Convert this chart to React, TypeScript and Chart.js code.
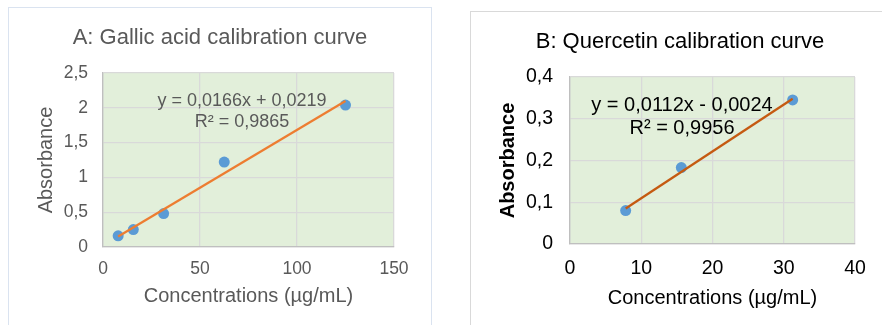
import React, { useEffect, useRef } from "react";
import { Chart, registerables } from "chart.js";

Chart.register(...registerables);

// ---- Data ----
const concA = [7.8125, 15.625, 31.25, 62.5, 125];
const absA = [0.16, 0.25, 0.48, 1.22, 2.04];
const trendAX = [7.8125, 125];
const trendAY = [0.152, 2.097];
const equationA = ["y = 0,0166x + 0,0219", "R² = 0,9865"];
const titleA = "A: Gallic acid calibration curve";

const concB = [7.8125, 15.625, 31.25];
const absB = [0.08, 0.183, 0.345];
const trendBX = [7.8125, 31.25];
const trendBY = [0.085, 0.348];
const equationB = ["y = 0,0112x - 0,0024", "R² = 0,9956"];
const titleB = "B: Quercetin calibration curve";

const xTitle = "Concentrations (µg/mL)";
const yTitle = "Absorbance";

const FONT = "'Liberation Sans', Arial, sans-serif";

type Spec = {
  xs: number[];
  ys: number[];
  tx: number[];
  ty: number[];
  eq: string[];
  title: string;
  xMax: number;
  xStep: number;
  yMax: number;
  yStep: number;
  textColor: string;
  trendColor: string;
  tickSize: number;
  eqSize: number;
  yTitleBold: boolean;
  pad: { left: number; top: number; right: number; bottom: number };
  yWidth: number;
  xHeight: number;
  yTickPad: number;
  xTickPad: number;
  titlePos: [number, number];
  eqPos: [number, number, number];
};

const fmt = (v: number) => {
  const r = Math.round(v * 10) / 10;
  return r === 0 ? "0" : String(r).replace(".", ",");
};

function ChartPanel({ spec }: { spec: Spec }) {
  const ref = useRef<HTMLCanvasElement | null>(null);
  useEffect(() => {
    if (!ref.current) return;
    const s = spec;
    const textPlugin = {
      id: "texts",
      beforeDraw(chart: any) {
        const { ctx, chartArea } = chart;
        ctx.save();
        ctx.fillStyle = "#e2efda";
        ctx.fillRect(chartArea.left, chartArea.top, chartArea.right - chartArea.left, chartArea.bottom - chartArea.top);
        ctx.restore();
      },
      afterDraw(chart: any) {
        const ctx = chart.ctx;
        ctx.save();
        ctx.fillStyle = s.textColor;
        ctx.textAlign = "center";
        ctx.textBaseline = "alphabetic";
        ctx.font = `22px ${FONT}`;
        ctx.fillText(s.title, s.titlePos[0], s.titlePos[1]);
        ctx.font = `${s.eqSize}px ${FONT}`;
        ctx.fillText(s.eq[0], s.eqPos[0], s.eqPos[1]);
        ctx.fillText(s.eq[1], s.eqPos[0], s.eqPos[2]);
        ctx.restore();
      },
    };
    const chart = new Chart(ref.current, {
      type: "scatter",
      data: {
        datasets: [
          {
            type: "line",
            data: s.tx.map((x, i) => ({ x, y: s.ty[i] })),
            borderColor: s.trendColor,
            borderWidth: 2.25,
            pointRadius: 0,
            fill: false,
          } as any,
          {
            data: s.xs.map((x, i) => ({ x, y: s.ys[i] })),
            backgroundColor: "#5b9bd5",
            borderColor: "#5b9bd5",
            pointRadius: 5.5,
            borderWidth: 0,
          },
        ],
      },
      options: {
        animation: false,
        responsive: false,
        maintainAspectRatio: false,
        layout: { padding: s.pad },
        plugins: { legend: { display: false }, tooltip: { enabled: false } },
        scales: {
          x: {
            type: "linear",
            min: 0,
            max: s.xMax,
            ticks: {
              stepSize: s.xStep,
              color: s.textColor,
              font: { family: FONT, size: s.tickSize },
              padding: s.xTickPad,
              maxRotation: 0,
            },
            grid: { color: "#d9d9d9", lineWidth: 1.3, drawTicks: false },
            border: { color: "#bfbfbf", width: 1.3 },
            title: {
              display: true,
              text: xTitle,
              color: s.textColor,
              font: { family: FONT, size: 20 },
              padding: 0,
            },
            afterFit: (sc: any) => {
              sc.height = s.xHeight;
            },
          },
          y: {
            min: 0,
            max: s.yMax,
            ticks: {
              stepSize: s.yStep,
              color: s.textColor,
              font: { family: FONT, size: s.tickSize },
              padding: s.yTickPad,
              callback: (v: any) => fmt(Number(v)),
            },
            grid: { color: "#d9d9d9", lineWidth: 1.3, drawTicks: false },
            border: { color: "#bfbfbf", width: 1.3 },
            title: {
              display: true,
              text: yTitle,
              color: s.textColor,
              font: { family: FONT, size: 20, weight: s.yTitleBold ? "bold" : "normal" },
              padding: 0,
            },
            afterFit: (sc: any) => {
              sc.width = s.yWidth;
            },
          },
        },
      } as any,
      plugins: [textPlugin],
    });
    return () => chart.destroy();
  }, [spec]);
  return <canvas ref={ref} width={441} height={325} style={{ width: 441, height: 325, display: "block" }} />;
}

const specA: Spec = {
  xs: concA,
  ys: absA,
  tx: trendAX,
  ty: trendAY,
  eq: equationA,
  title: titleA,
  xMax: 150,
  xStep: 50,
  yMax: 2.5,
  yStep: 0.5,
  textColor: "#595959",
  trendColor: "#ed7d31",
  tickSize: 17.5,
  eqSize: 18,
  yTitleBold: false,
  pad: { left: 34, top: 73, right: 47, bottom: 17 },
  yWidth: 69,
  xHeight: 61,
  yTickPad: 15,
  xTickPad: 12,
  titlePos: [220, 44],
  eqPos: [242, 106, 127],
};

const specB: Spec = {
  xs: concB,
  ys: absB,
  tx: trendBX,
  ty: trendBY,
  eq: equationB,
  title: titleB,
  xMax: 40,
  xStep: 10,
  yMax: 0.4,
  yStep: 0.1,
  textColor: "#000000",
  trendColor: "#c55a11",
  tickSize: 19.5,
  eqSize: 20,
  yTitleBold: true,
  pad: { left: 55, top: 77, right: 27, bottom: 15 },
  yWidth: 74,
  xHeight: 66,
  yTickPad: 17,
  xTickPad: 13,
  titlePos: [239, 47.5],
  eqPos: [241, 111, 134],
};

export default function App() {
  return (
    <div style={{ position: "fixed", left: 0, top: 0, width: 882, height: 325, background: "#fff", overflow: "hidden" }}>
      <div style={{ position: "absolute", left: 8, top: 7, width: 422, height: 340, border: "1.5px solid #dae3f0" }} />
      <div style={{ position: "absolute", left: 470, top: 11, width: 440, height: 340, border: "1.5px solid #d9d9d9" }} />
      <div style={{ position: "absolute", left: 0, top: 0 }}>
        <ChartPanel spec={specA} />
      </div>
      <div style={{ position: "absolute", left: 441, top: 0 }}>
        <ChartPanel spec={specB} />
      </div>
    </div>
  );
}
